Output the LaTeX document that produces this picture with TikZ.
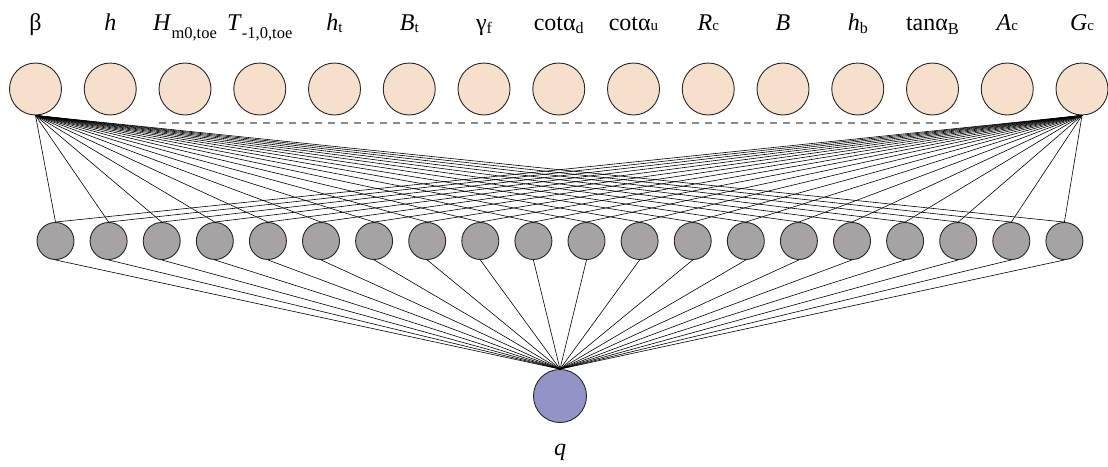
\documentclass[tikz,border=0pt]{standalone}
\usepackage{fontspec}
\setmainfont{Liberation Serif}
\newfontfamily\labfont{Liberation Serif}
\definecolor{inpfill}{RGB}{246,224,203}
\definecolor{hidfill}{RGB}{165,163,163}
\definecolor{outfill}{RGB}{147,147,200}
\definecolor{dashgray}{RGB}{140,140,140}
% lowered, smaller subscript text: size, drop, text
\newcommand{\lsub}[3]{\raisebox{-#2pt}{\fontsize{#1}{#1}\selectfont #3}}
\begin{document}
\begin{tikzpicture}[x=1pt,y=-1pt,
  inp/.style={circle,draw=black!85,line width=0.9pt,fill=inpfill,minimum size=52pt,inner sep=0pt},
  hid/.style={circle,draw=black!85,line width=0.9pt,fill=hidfill,minimum size=37pt,inner sep=0pt},
  outn/.style={circle,draw=black!85,line width=0.9pt,fill=outfill,minimum size=53pt,inner sep=0pt},
  lab/.style={anchor=base,inner sep=0pt,font=\labfont\fontsize{24}{26}\selectfont},
  wire/.style={line width=0.6pt,black}]
\useasboundingbox (0,0) rectangle (1108,466);

% input layer
\foreach \i in {1,...,15}
  \node[inp] (in\i) at ({35.5+(\i-1)*74.75},89) {};
% hidden layer
\foreach \j in {1,...,20}
  \node[hid] (h\j) at ({55.5+(\j-1)*53.1},241) {};
% output node
\node[outn] (out) at (560,396) {};

% connections
\foreach \j in {1,...,20} {
  \draw[wire] (in1.south) -- (h\j.north);
  \draw[wire] (in15.south) -- (h\j.north);
  \draw[wire] (h\j.south) -- (out.north);
}

% omitted inputs
\coordinate (dl) at (159,122.7);
\coordinate (dr) at (960,122.7);
\draw[dashgray,line width=1.6pt,dash pattern=on 6.5pt off 6.5pt] (dl) -- (dr);

% input labels
\path (in1)  ++(0,-58.5) node[lab] (l1)  {β};
\path (in2)  ++(0,-58.5) node[lab] (l2)  {\textit{h}};
\path (in3)  ++(0,-58.5) node[lab] (l3)  {\textit{H}\lsub{16.5}{8}{m0,toe}};
\path (in4)  ++(0,-58.5) node[lab] (l4)  {\textit{T}\lsub{16.5}{8}{-1,0,toe}};
\path (in5)  ++(0,-58.5) node[lab] (l5)  {\textit{h}\lsub{15}{1.5}{t}};
\path (in6)  ++(0,-58.5) node[lab] (l6)  {\textit{B}\lsub{15}{1.5}{t}};
\path (in7)  ++(0,-58.5) node[lab] (l7)  {γ\lsub{16}{3}{f}};
\path (in8)  ++(0,-58.5) node[lab] (l8)  {cotα\lsub{16}{3}{d}};
\path (in9)  ++(0,-58.5) node[lab] (l9)  {cotα\lsub{15}{0}{u}};
\path (in10) ++(0,-58.5) node[lab] (l10) {\textit{R}\lsub{15}{0}{c}};
\path (in11) ++(0,-58.5) node[lab] (l11) {\textit{B}};
\path (in12) ++(0,-58.5) node[lab] (l12) {\textit{h}\lsub{16}{3}{b}};
\path (in13) ++(0,-58.5) node[lab] (l13) {tanα\lsub{16.5}{4}{B}};
\path (in14) ++(0,-58.5) node[lab] (l14) {\textit{A}\lsub{15}{0}{c}};
\path (in15) ++(0,-58.5) node[lab] (l15) {\textit{G}\lsub{15}{0}{c}};

% output label
\path (out) ++(0,59) node[lab] (lq) {\textit{q}};
\end{tikzpicture}
\end{document}
